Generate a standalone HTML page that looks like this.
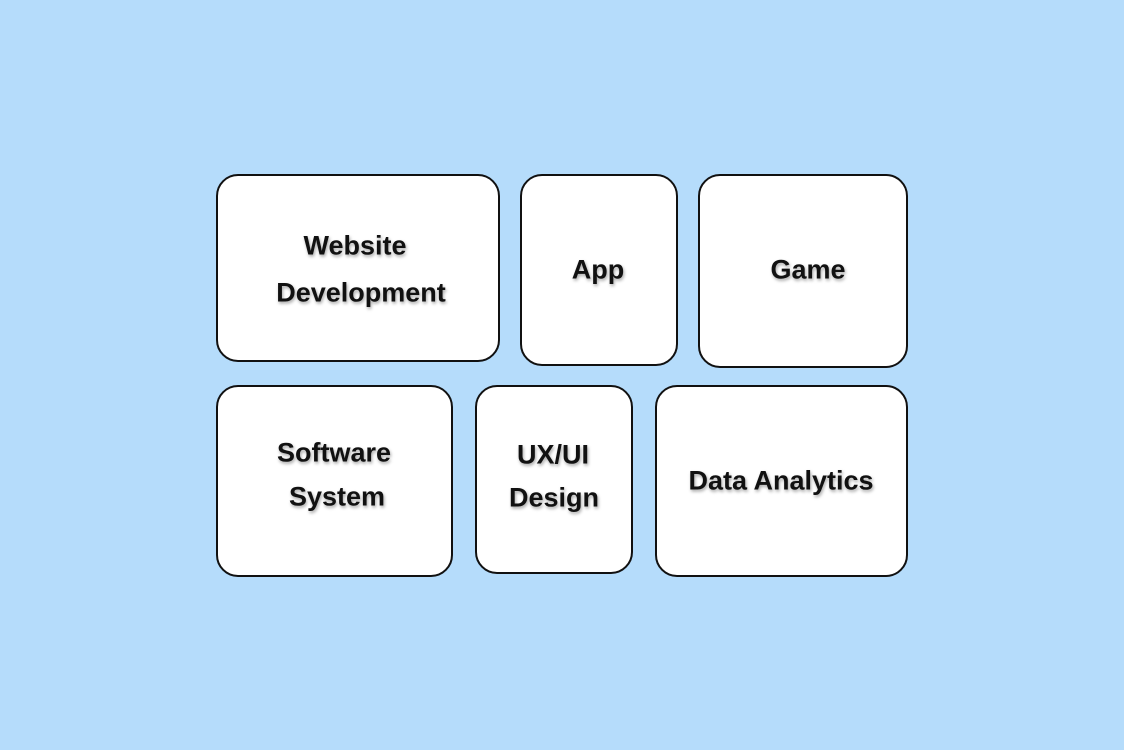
<!DOCTYPE html>
<html><head><style>
body{margin:0;width:1124px;height:750px;background:#b5dcfb;position:relative;overflow:hidden;font-family:"Liberation Sans",sans-serif;}
.b{position:absolute;box-sizing:border-box;background:#fff;border:2px solid #111;border-radius:22px;}
.t{position:absolute;transform:translate(-50%,-50%);font-weight:bold;font-size:27px;color:#111;white-space:nowrap;text-shadow:1px 2px 3px rgba(0,0,0,0.35);}
</style></head><body>
<div class="b" style="left:216px;top:174px;width:284px;height:188px"></div>
<div class="b" style="left:520px;top:174px;width:158px;height:192px"></div>
<div class="b" style="left:698px;top:174px;width:210px;height:194px"></div>
<div class="b" style="left:216px;top:385px;width:237px;height:192px"></div>
<div class="b" style="left:475px;top:385px;width:158px;height:189px"></div>
<div class="b" style="left:655px;top:385px;width:253px;height:192px"></div>
<div class="t" style="left:355px;top:246px">Website</div>
<div class="t" style="left:361px;top:293px">Development</div>
<div class="t" style="left:598px;top:270px">App</div>
<div class="t" style="left:808px;top:270px">Game</div>
<div class="t" style="left:334px;top:453px">Software</div>
<div class="t" style="left:337px;top:497px">System</div>
<div class="t" style="left:553px;top:455px">UX/UI</div>
<div class="t" style="left:554px;top:498px">Design</div>
<div class="t" style="left:781px;top:481px">Data Analytics</div>
</body></html>
